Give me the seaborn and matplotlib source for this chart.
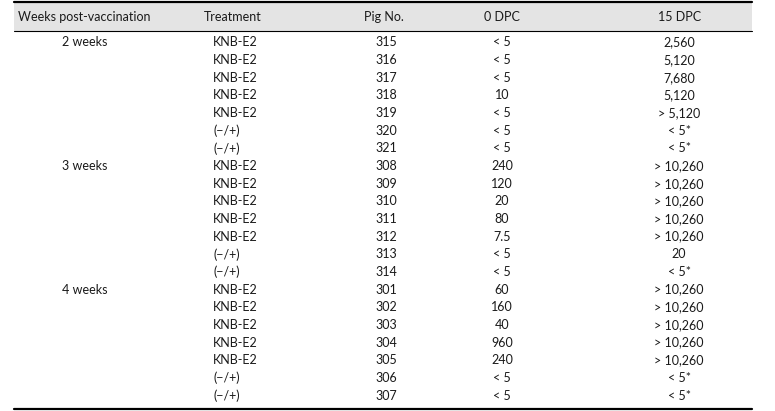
import seaborn as sns
import matplotlib.pyplot as plt
from matplotlib.patches import Rectangle

headers = ['Weeks post-vaccination', 'Treatment', 'Pig No.', '0 DPC', '15 DPC']
weeks = ['2 weeks', '', '', '', '', '', '',
         '3 weeks', '', '', '', '', '', '',
         '4 weeks', '', '', '', '', '', '']
treatment = ['KNB-E2'] * 5 + ['(\u2212/+)'] * 2 + ['KNB-E2'] * 5 + ['(\u2212/+)'] * 2 + ['KNB-E2'] * 5 + ['(\u2212/+)'] * 2
pig_no = ['315', '316', '317', '318', '319', '320', '321',
          '308', '309', '310', '311', '312', '313', '314',
          '301', '302', '303', '304', '305', '306', '307']
dpc0 = ['< 5', '< 5', '< 5', '10', '< 5', '< 5', '< 5',
        '240', '120', '20', '80', '7.5', '< 5', '< 5',
        '60', '160', '40', '960', '240', '< 5', '< 5']
dpc15 = ['2,560', '5,120', '7,680', '5,120', '> 5,120', '< 5*', '< 5*',
         '> 10,260', '> 10,260', '> 10,260', '> 10,260', '> 10,260', '20', '< 5*',
         '> 10,260', '> 10,260', '> 10,260', '> 10,260', '> 10,260', '< 5*', '< 5*']

sns.set_theme(style='white')
plt.rcParams['font.family'] = ['Lato', 'DejaVu Sans']

fig = plt.figure(figsize=(7.75, 4.11), dpi=100)
ax = fig.add_axes([0, 0, 1, 1])
ax.set_xlim(0, 775)
ax.set_ylim(411, 0)
ax.axis('off')

fs = 9
col_x = [85, 213, 386, 502, 679]
head_x = [84, 233, 384, 502, 680]

# header band
ax.add_patch(Rectangle((14, 2), 738, 29, facecolor='#e4e4e4', edgecolor='none'))
ax.plot([14, 752], [2, 2], color='black', lw=1.6)
ax.plot([14, 752], [31, 31], color='black', lw=0.8)
ax.plot([14, 752], [408.5, 408.5], color='black', lw=1.6)

for x, h in zip(head_x, headers):
    ax.text(x, 17, h, ha='center', va='center', fontsize=fs, color='#1a1a1a')

y0, step = 42.5, 17.65
columns = [weeks, treatment, pig_no, dpc0, dpc15]
for c, (x, vals) in enumerate(zip(col_x, columns)):
    for i, v in enumerate(vals):
        ax.text(x, y0 + i * step, v, ha='left' if c == 1 else 'center',
                va='center', fontsize=fs, color='#1a1a1a')

fig.savefig('out.png', dpi=100)
